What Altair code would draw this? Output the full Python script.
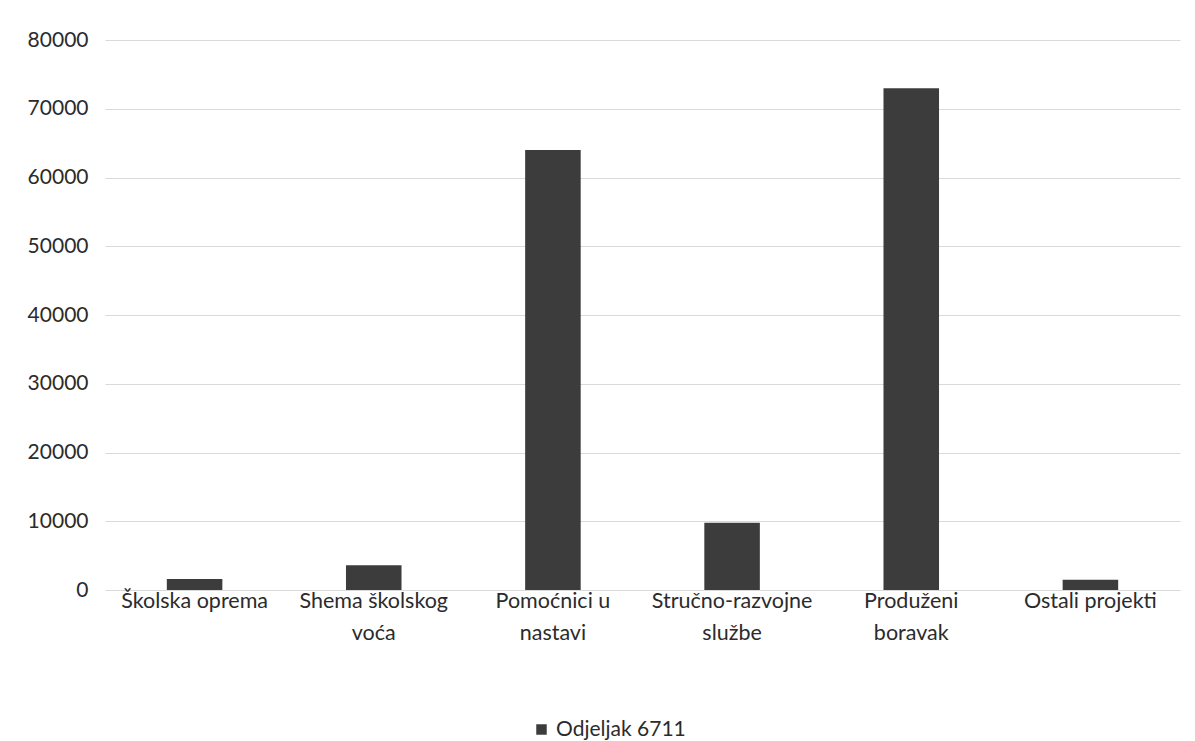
import altair as alt
import pandas as pd

categories = ["Školska oprema", "Shema školskog voća", "Pomoćnici u nastavi",
              "Stručno-razvojne službe", "Produženi boravak", "Ostali projekti"]
label_lines = ["Školska oprema", "Shema školskog|voća", "Pomoćnici u|nastavi",
               "Stručno-razvojne|službe", "Produženi|boravak", "Ostali projekti"]
values = [1600, 3600, 64000, 9800, 73000, 1500]
series = "Odjeljak 6711"

df = pd.DataFrame({"kategorija": label_lines, "iznos": values, "serija": series})

FONT = "Lato"

chart = alt.Chart(df).mark_bar(color="#3c3c3c").encode(
    x=alt.X("kategorija:N", sort=label_lines,
            scale=alt.Scale(paddingInner=0.69, paddingOuter=0.345),
            axis=alt.Axis(title=None, labelAngle=0, domain=False, ticks=False,
                          labelPadding=0, labelFontSize=21.5, labelFont=FONT,
                          labelColor="#2b2b2b", labelLineHeight=32,
                          labelExpr="split(datum.label, '|')")),
    y=alt.Y("iznos:Q", scale=alt.Scale(domain=[0, 80000]),
            axis=alt.Axis(title=None, values=list(range(0, 80001, 10000)),
                          format="d", domain=False, ticks=False, labelPadding=17,
                          labelFontSize=21, labelFont=FONT, labelColor="#2b2b2b",
                          gridColor="#d9d9d9", gridWidth=1)),
    color=alt.Color("serija:N", scale=alt.Scale(range=["#3c3c3c"]),
                    legend=alt.Legend(title=None, orient="none", legendX=426,
                                      legendY=679, symbolType="square",
                                      symbolSize=110, labelFontSize=21,
                                      labelFont=FONT, labelColor="#2b2b2b",
                                      symbolStrokeWidth=0, labelOffset=4)),
).properties(
    width=1075, height=550,
    autosize=alt.AutoSizeParams(type="none"),
    padding={"left": 97, "top": 32, "right": 7, "bottom": 151},
).configure(background="white").configure_view(stroke=None)

chart.save("out.html", embed_options={"renderer": "svg", "actions": False})
